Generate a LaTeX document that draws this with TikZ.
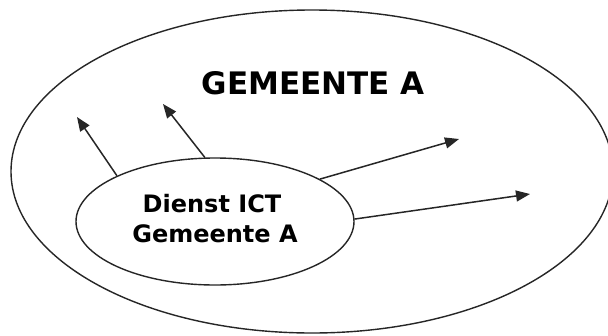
\documentclass[tikz,border=0pt]{standalone}
\usepackage{fontspec}
\setmainfont{DejaVu Sans}
\usetikzlibrary{shapes.geometric,arrows.meta}
\begin{document}
\begin{tikzpicture}[x=1pt,y=-1pt,
  ring/.style={draw=black!85,line width=1.4pt,ellipse,inner sep=0pt},
  conn/.style={draw=black!85,line width=1.5pt,-{Triangle[length=14pt,width=11pt]}},
  title/.style={font=\fontsize{31}{36}\selectfont\bfseries},
  label/.style={font=\fontsize{24}{30}\selectfont\bfseries,align=center}]
\useasboundingbox (0,0) rectangle (608,335);
\fill[white] (0,0) rectangle (608,335);
\node[ring,minimum width=602pt,minimum height=323pt] (outer) at (312,171.5) {};
\node[ring,minimum width=278pt,minimum height=127pt] (inner) at (215,221.5) {};
\node[title,anchor=base] (t) at (313,94) {GEMEENTE A};
\node[label,anchor=base] (l1) at (212,212) {Dienst ICT};
\node[label,anchor=base] (l2) at (215,242) {Gemeente A};
\coordinate (e1) at (77,117);
\coordinate (e2) at (163,104);
\coordinate (e3) at (459,139);
\coordinate (e4) at (530,194);
\draw[conn] (inner.155) -- (e1);
\draw[conn] (inner.99) -- (e2);
\draw[conn] (inner.22) -- (e3);
\draw[conn] (inner.1) -- (e4);
\end{tikzpicture}
\end{document}
